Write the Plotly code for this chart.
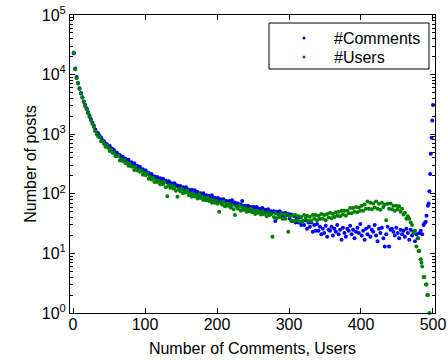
import plotly.graph_objects as go

# ---- data ----
main_x = list(range(1, 480, 2))  # x = 1, 3, 5, ..., 479

comments_main = [
    22900, 12600, 9120, 7240, 5890, 4900, 4170, 3550, 3090, 2690,
    2340, 2040, 1778, 1549, 1380, 1202, 1072, 1023, 933, 871,
    794, 759, 692, 676, 617, 631, 575, 562, 537, 490,
    490, 447, 447, 407, 417, 372, 389, 355, 372, 331,
    339, 309, 324, 288, 295, 269, 282, 251, 257, 240,
    245, 224, 224, 209, 214, 195, 195, 182, 191, 174,
    182, 166, 178, 162, 166, 155, 162, 145, 151, 141,
    151, 135, 138, 129, 135, 120, 129, 120, 129, 115,
    117, 107, 117, 107, 115, 102, 107, 95, 102, 95,
    102, 91, 95, 85, 93, 85, 95, 83, 85, 78,
    85, 78, 81, 72, 81, 74, 76, 69, 76, 69,
    78, 68, 71, 63, 69, 65, 66, 76, 62, 63,
    58, 63, 59, 60, 54, 60, 56, 60, 52, 56,
    54, 58, 50, 54, 51, 55, 47, 51, 49, 51,
    35, 50, 47, 51, 43, 47, 43, 48, 44, 46,
    38, 45, 35, 42, 33, 39, 33, 40, 30, 35,
    30, 36, 26, 33, 28, 33, 23, 30, 24, 31,
    24, 28, 21, 26, 22, 29, 19, 25, 24, 28,
    20, 26, 23, 30, 21, 25, 17, 27, 22, 19,
    26, 24, 29, 21, 25, 18, 23, 27, 22, 31,
    20, 24, 17, 26, 21, 28, 19, 25, 23, 30,
    20, 16, 26, 22, 27, 18, 13, 21, 28, 13,
    25, 26, 23, 20, 27, 22, 18, 25, 21, 24,
    19, 26, 22, 17, 25, 20, 23, 16, 21, 18,
]
comments_tail_x = [481, 483, 485, 487, 488, 490, 491, 493, 494, 495, 496, 497, 498, 499, 500]
comments_tail = [22, 24, 21, 30, 32, 34, 43, 63, 69, 110, 214, 468, 871, 1700, 3090]

users_main = [
    23400, 12300, 8710, 7080, 5750, 4790, 4070, 3470, 2950, 2630,
    2240, 1950, 1700, 1480, 1320, 1120, 1000, 912, 891, 759,
    759, 692, 617, 646, 589, 525, 550, 490, 490, 427,
    437, 437, 363, 380, 355, 372, 324, 331, 295, 316,
    288, 288, 251, 282, 245, 251, 234, 245, 209, 224,
    204, 219, 178, 195, 174, 186, 158, 170, 158, 166,
    145, 158, 145, 158, 129, 91, 141, 126, 138, 123,
    129, 112, 89, 120, 110, 123, 102, 112, 105, 112,
    95, 102, 89, 102, 91, 95, 83, 98, 85, 89,
    79, 85, 78, 87, 76, 79, 71, 79, 71, 76,
    68, 50, 72, 66, 74, 62, 68, 63, 68, 59,
    65, 55, 44, 62, 56, 63, 52, 59, 54, 58,
    50, 55, 51, 56, 49, 52, 46, 52, 48, 50,
    45, 51, 46, 48, 42, 48, 44, 46, 19, 41,
    47, 39, 44, 41, 46, 38, 45, 38, 45, 23,
    42, 35, 44, 35, 44, 36, 42, 34, 41, 35,
    44, 38, 43, 35, 41, 35, 44, 38, 44, 36,
    43, 38, 46, 38, 44, 36, 46, 40, 48, 39,
    46, 41, 49, 43, 50, 42, 52, 45, 52, 43,
    52, 47, 58, 47, 58, 50, 60, 49, 59, 52,
    63, 52, 66, 56, 74, 56, 71, 55, 69, 59,
    74, 56, 68, 54, 71, 60, 66, 36, 68, 56,
    69, 55, 63, 52, 63, 55, 62, 50, 56, 45,
    48, 38, 42, 38, 33, 30, 22, 24, 13, 18,
]
users_tail_x = [480, 481, 483, 484, 485, 487, 488, 490, 491, 492, 493, 495]
users_tail = [11, 11, 8, 7, 6, 4, 4, 3, 3, 2, 2, 1]

series_names = ["#Comments", "#Users"]
series_colors = ["#0000FF", "#008000"]

x_ticks = [0, 100, 200, 300, 400, 500]
y_ticks = [1, 10, 100, 1000, 10000, 100000]
y_ticktext = ["10<sup>0</sup>", "10<sup>1</sup>", "10<sup>2</sup>",
              "10<sup>3</sup>", "10<sup>4</sup>", "10<sup>5</sup>"]
y_minor = [m * d for d in (1, 10, 100, 1000, 10000) for m in range(2, 10)]

FONT = "Liberation Sans, Arial, sans-serif"
W, H = 448, 360
ML, MR, MT, MB = 70, 13, 15, 47
PW, PH = W - ML - MR, H - MT - MB


def px_x(p):
    return (p - ML) / PW


def px_y(p):
    return (H - MB - p) / PH


fig = go.Figure()
fig.add_trace(go.Scatter(
    x=main_x + comments_tail_x, y=comments_main + comments_tail,
    mode="markers", name=series_names[0],
    marker=dict(color=series_colors[0], size=4, line=dict(width=0)),
    cliponaxis=False, showlegend=False,
))
fig.add_trace(go.Scatter(
    x=main_x + users_tail_x, y=users_main + users_tail,
    mode="markers", name=series_names[1],
    marker=dict(color=series_colors[1], size=4, line=dict(width=0)),
    cliponaxis=False, showlegend=False,
))

# legend box drawn by hand (MATLAB-style compact legend)
shapes = [dict(type="rect", xref="paper", yref="paper",
               x0=px_x(269), x1=px_x(429), y0=px_y(69), y1=px_y(23),
               line=dict(color="black", width=1), fillcolor="white", layer="above")]
annotations = []
for i, (nm, col) in enumerate(zip(series_names, series_colors)):
    cy = 38 + 19 * i
    shapes.append(dict(type="circle", xref="paper", yref="paper",
                       x0=px_x(302.5), x1=px_x(305.5), y0=px_y(cy + 1.5), y1=px_y(cy - 1.5),
                       line=dict(width=0), fillcolor=col, layer="above"))
    annotations.append(dict(text=nm, xref="paper", yref="paper",
                            x=px_x(332), y=px_y(cy), xanchor="left", yanchor="middle",
                            showarrow=False, font=dict(family=FONT, size=16, color="black")))

fig.update_layout(
    width=W, height=H,
    margin=dict(l=ML, r=MR, t=MT, b=MB, autoexpand=False),
    paper_bgcolor="white", plot_bgcolor="white",
    font=dict(family=FONT, size=16, color="black"),
    showlegend=False,
    shapes=shapes, annotations=annotations,
    xaxis=dict(
        range=[-4.2, 502.8], tickvals=x_ticks,
        ticks="inside", ticklen=5, tickcolor="black",
        showline=True, linecolor="black", linewidth=1, mirror="ticks",
        showgrid=False, zeroline=False, automargin=False,
        tickfont=dict(size=16), ticklabelstandoff=-3,
        title=dict(text="Number of Comments, Users", font=dict(size=16), standoff=10),
    ),
    yaxis=dict(
        type="log", range=[0, 5], tickvals=y_ticks, ticktext=y_ticktext,
        ticks="inside", ticklen=5, tickcolor="black",
        showline=True, linecolor="black", linewidth=1, mirror="ticks",
        showgrid=False, zeroline=False, automargin=False,
        tickfont=dict(size=16),
        minor=dict(tickvals=y_minor, ticks="inside", ticklen=3, tickcolor="black", showgrid=False),
        title=dict(text="Number of posts", font=dict(size=16), standoff=1),
    ),
)

fig.write_html("out.html")
